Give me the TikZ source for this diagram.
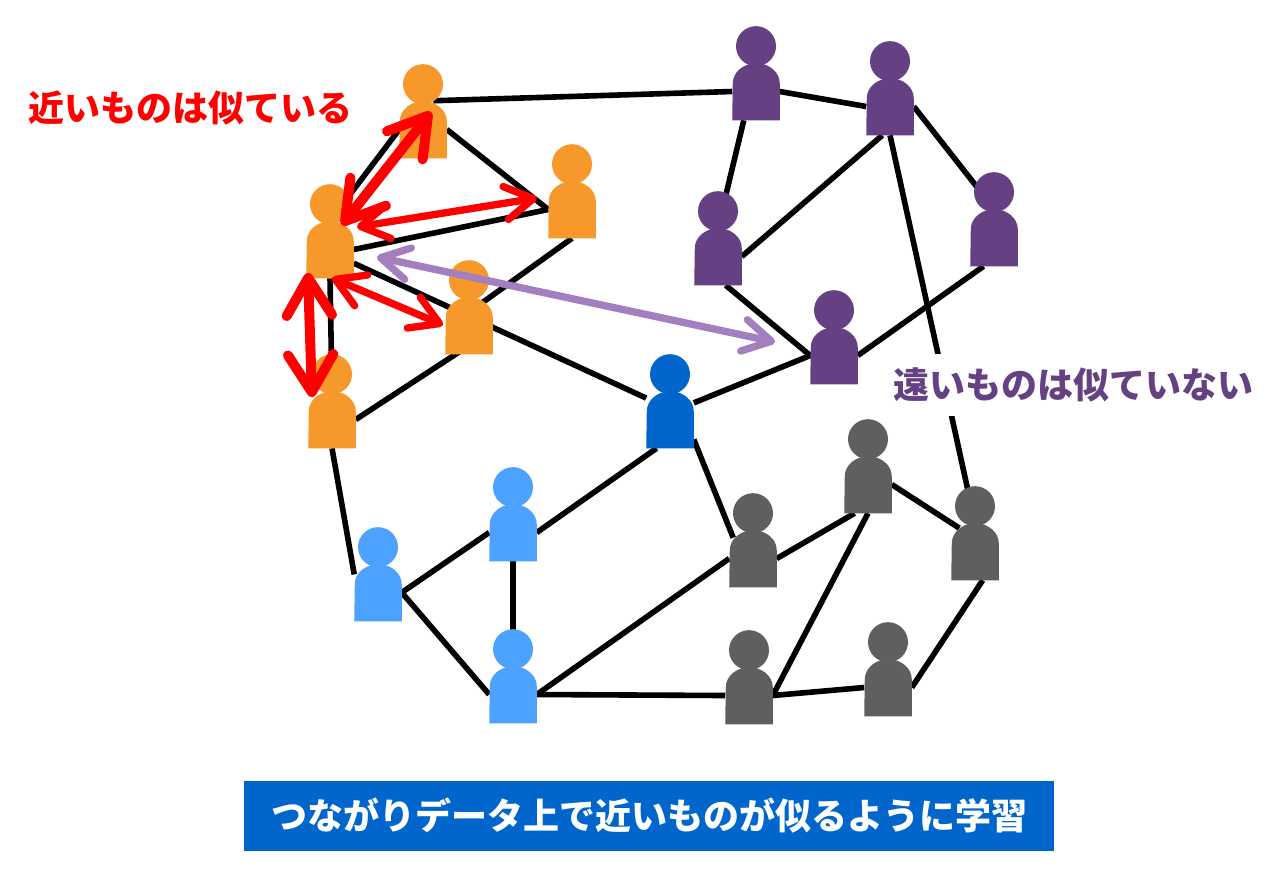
\documentclass[tikz,border=0pt]{standalone}
\usepackage{fontspec}
\newfontfamily\cjk{Noto Sans CJK JP}
\usetikzlibrary{arrows.meta,backgrounds}
\definecolor{orangeuser}{HTML}{F7982B}
\definecolor{purpleuser}{HTML}{654082}
\definecolor{darkuser}{HTML}{0066CC}
\definecolor{lightuser}{HTML}{4DA1FF}
\definecolor{grayuser}{HTML}{5F5F5F}
\definecolor{lavender}{HTML}{A47FC0}
\tikzset{
	bodybox/.style = {inner sep=0, minimum width=35.25pt, minimum height=42.75pt},
	headdot/.style = {circle, inner sep=0, minimum size=30pt},
	link/.style = {line width=4.2pt},
	bigarrow/.style = {red, line width=7.5pt, line cap=round, {Straight Barb[round,length=28pt,width=34pt]}-{Straight Barb[round,length=28pt,width=34pt]}},
	smallarrow/.style = {red, line width=5.5pt, line cap=round, {Straight Barb[round,length=21pt,width=25pt]}-{Straight Barb[round,length=21pt,width=25pt]}},
	farrow/.style = {lavender, line width=5.5pt, line cap=round, {Straight Barb[round,length=21pt,width=24pt]}-{Straight Barb[round,length=21pt,width=24pt]}},
	caption/.style = {font=\cjk\bfseries\fontsize{27pt}{27pt}\selectfont, inner sep=0}
}
\begin{document}
\begin{tikzpicture}[x=.75pt, y=-.75pt]
	\useasboundingbox (0,0) rectangle (1280,890);
	\foreach \n/\x/\y/\c in {o1/423/158/orangeuser, o2/572/238/orangeuser, o3/330/278/orangeuser, o4/469/354/orangeuser, o5/332/448/orangeuser,
		p1/756/120/purpleuser, p2/890/135/purpleuser, p3/718/285/purpleuser, p4/994/266/purpleuser, p5/834/384/purpleuser,
		d1/670/448/darkuser,
		b1/378/621/lightuser, b2/513/561/lightuser, b3/513/723/lightuser,
		g1/753/587/grayuser, g2/868/513/grayuser, g3/975/580/grayuser, g4/749/724/grayuser, g5/888/716/grayuser}
	{
		\node[bodybox] (\n) at (\x, \y-28.5) {};
		\fill[\c] (\n.south west) -- (\n.south east) -- ++(0,-37) arc[start angle=0, end angle=180, x radius=17.625pt, y radius=15pt] -- cycle;
		\node[headdot, fill=\c] (\n h) at ([yshift=34pt]\n.center) {};
	}
	\begin{scope}[on background layer]
		\draw[link] ([xshift=-10pt]o1.north east)--(p1.west);
		\draw[link] (o1.west)--(o3.north);
		\draw[link] (o1.east)--(o2.west);
		\draw[link] (o3.east)--(o2.west);
		\draw[link] (o3.-30)--(d1.138);
		\draw[link] (o2.south)--([yshift=10pt]o4.center);
		\draw[link] (o5.east)--([yshift=-15pt]o4.center);
		\draw[link] (o3.south)--(o5.north);
		\draw[link] (o5.south)--([yshift=-8pt]b1.north west);
		\draw[link] (p1.east)--(p2.west);
		\draw[link] (p1.-113)--(p3.north);
		\draw[link] (p2.-105)--(p3.east);
		\draw[link] (p2.east)--(p4.north);
		\draw[link] (p2.south)--(g3.north);
		\draw[link] (p3.-75)--(p5.west);
		\draw[link] (p4.-110)--(p5.east);
		\draw[link] (p5.west)--(d1.35);
		\draw[link] (d1.-115)--(b2.east);
		\draw[link] (d1.-40)--([shift={(3pt,-6pt)}]g1.north west);
		\draw[link] (b2.west)--(b1.east);
		\draw[link] (b1.east)--(b3.west);
		\draw[link] (b2.south)--(b3.north);
		\draw[link] (b3.east)--(g1.west);
		\draw[link] (b3.east)--(g4.west);
		\draw[link] (g1.east)--(g2.-115);
		\draw[link] (g2.east)--([shift={(6pt,-4pt)}]g3.north west);
		\draw[link] (g2.south)--(g4.east);
		\draw[link] (g4.east)--(g5.west);
		\draw[link] (g5.east)--(g3.-75);
	\end{scope}
	% ends of the similarity arrows
	\coordinate (near1a) at (431,112);
	\coordinate (near1b) at (342,225);
	\coordinate (near2a) at (537,198);
	\coordinate (near2b) at (357,227);
	\coordinate (near3a) at (443,325);
	\coordinate (near3b) at (332,278);
	\coordinate (near4a) at (308,273);
	\coordinate (near4b) at (312,397);
	\coordinate (fara) at (377,257);
	\coordinate (farb) at (775,342);
	\draw[bigarrow] (near1a)--(near1b);
	\draw[smallarrow] (near2a)--(near2b);
	\draw[smallarrow] (near3a)--(near3b);
	\draw[bigarrow] (near4a)--(near4b);
	\draw[farrow] (fara)--(farb);
	\node[caption, text=red] (neartext) at (190,108) {近いものは似ている};
	\node[caption, text=purpleuser, fill=white, inner xsep=2pt, inner ysep=10pt] (fartext) at (1073,385) {遠いものは似ていない};
	\node[caption, text=white, fill=darkuser, minimum width=607.5pt, minimum height=52.5pt] (title) at (649,816) {つながりデータ上で近いものが似るように学習};
\end{tikzpicture}
\end{document}
